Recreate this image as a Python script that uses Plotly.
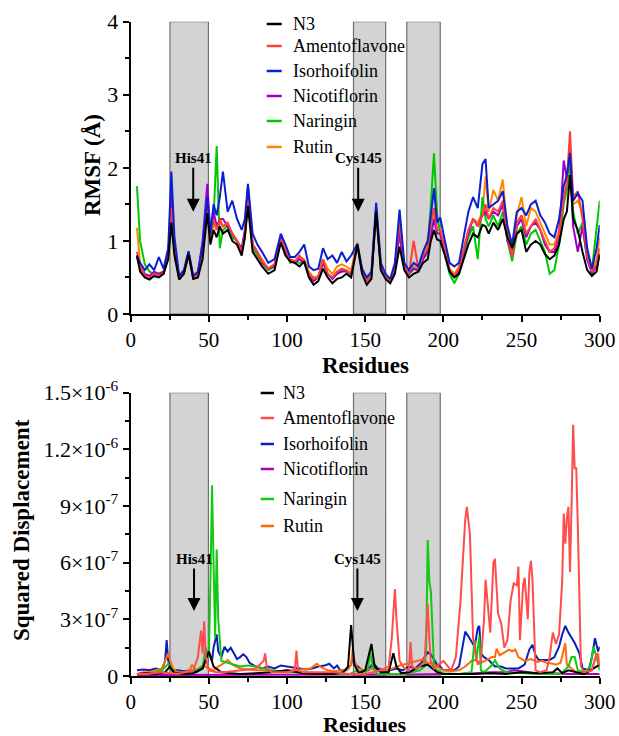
import plotly.graph_objects as go

# ---------------- Top panel: RMSF (Å) ----------------
residues_top = [4, 6, 9, 12, 15, 18, 21, 24, 26, 28,
                31, 34, 37, 40, 43, 46, 49, 51, 53, 55,
                57, 59, 62, 65, 68, 71, 73, 75, 78, 81,
                84, 88, 92, 96, 99, 102, 105, 108, 111, 114,
                117, 120, 123, 126, 129, 132, 135, 138, 141, 145,
                148, 151, 154, 157, 160, 163, 166, 169, 172, 175,
                178, 181, 184, 187, 190, 192, 194, 196, 198, 201,
                204, 207, 210, 213, 216, 219, 222, 225, 227, 229,
                232, 235, 238, 241, 244, 247, 250, 253, 256, 259,
                262, 265, 268, 271, 274, 277, 279, 281, 283, 286,
                289, 292, 295, 298, 300]

rmsf_n3 = [0.80, 0.58, 0.50, 0.47, 0.52, 0.50, 0.55, 0.75, 1.25, 0.80,
           0.47, 0.55, 0.82, 0.48, 0.50, 0.75, 1.38, 0.95, 1.15, 1.05,
           1.20, 1.10, 1.15, 1.00, 0.95, 0.80, 1.05, 1.48, 0.85, 0.75,
           0.65, 0.55, 0.60, 0.98, 0.80, 0.72, 0.70, 0.65, 0.72, 0.50,
           0.40, 0.45, 0.62, 0.50, 0.42, 0.48, 0.50, 0.55, 0.50, 0.95,
           0.55, 0.40, 0.48, 1.40, 0.60, 0.48, 0.42, 0.55, 0.92, 0.60,
           0.50, 0.55, 0.58, 0.70, 0.75, 1.00, 1.15, 1.02, 1.00, 0.80,
           0.58, 0.50, 0.55, 0.75, 0.95, 1.10, 1.05, 1.22, 1.20, 1.10,
           1.25, 1.15, 1.30, 1.05, 0.90, 1.10, 1.15, 0.85, 0.95, 1.00,
           0.95, 0.82, 0.75, 0.80, 0.95, 1.30, 1.40, 1.90, 1.30, 1.15,
           0.85, 0.60, 0.52, 0.58, 0.82]

rmsf_amentoflavone = [0.85, 0.65, 0.52, 0.48, 0.55, 0.52, 0.55, 0.80, 1.45, 0.90,
                      0.48, 0.55, 0.85, 0.50, 0.55, 0.85, 1.55, 1.05, 1.30, 1.15,
                      1.30, 1.20, 1.25, 1.10, 1.00, 0.85, 1.10, 1.55, 0.95, 0.85,
                      0.72, 0.62, 0.68, 1.02, 0.88, 0.75, 0.72, 0.80, 0.72, 0.55,
                      0.48, 0.50, 0.75, 0.55, 0.50, 0.58, 0.62, 0.60, 0.55, 0.95,
                      0.60, 0.45, 0.52, 1.45, 0.65, 0.50, 0.45, 0.65, 1.27, 0.65,
                      0.55, 1.00, 0.62, 0.80, 0.90, 1.25, 1.45, 1.15, 1.15, 0.90,
                      0.60, 0.52, 0.62, 0.90, 1.15, 1.30, 1.20, 1.35, 1.50, 1.30,
                      1.45, 1.40, 1.55, 1.05, 0.78, 1.25, 1.35, 1.10, 1.20, 1.30,
                      1.15, 1.00, 0.85, 0.90, 1.10, 1.55, 1.80, 2.50, 1.60, 1.68,
                      1.30, 0.80, 0.58, 0.68, 0.90]

rmsf_isorhoifolin = [0.80, 0.70, 0.60, 0.68, 0.60, 0.78, 0.62, 0.90, 1.95, 1.05,
                     0.52, 0.60, 0.86, 0.52, 0.58, 0.95, 1.60, 1.10, 1.50, 1.35,
                     1.60, 1.95, 1.40, 1.55, 1.30, 1.15, 1.30, 1.78, 1.10, 0.95,
                     0.85, 0.70, 0.75, 1.10, 0.95, 0.78, 0.78, 0.85, 0.95, 0.65,
                     0.60, 0.62, 0.90, 0.75, 0.80, 0.70, 0.85, 0.72, 0.80, 0.96,
                     0.62, 0.50, 0.58, 1.52, 0.70, 0.55, 0.48, 0.70, 1.43, 0.70,
                     0.60, 0.70, 0.65, 0.85, 1.00, 1.40, 1.72, 1.25, 1.32, 1.00,
                     0.70, 0.65, 0.70, 1.05, 1.40, 1.60, 1.45, 2.05, 2.12, 1.45,
                     1.50, 1.55, 1.68, 1.20, 0.95, 1.40, 1.45, 1.35, 1.50, 1.55,
                     1.35, 1.25, 1.10, 1.05, 1.30, 1.75, 1.90, 2.20, 1.55, 1.65,
                     1.55, 0.90, 0.62, 0.90, 1.22]

rmsf_nicotiflorin = [0.78, 0.62, 0.55, 0.52, 0.58, 0.55, 0.58, 0.80, 1.60, 0.90,
                     0.50, 0.55, 0.85, 0.50, 0.55, 1.00, 1.78, 1.10, 1.40, 1.20,
                     1.30, 1.30, 1.20, 1.10, 1.00, 0.90, 1.15, 1.75, 0.95, 0.85,
                     0.70, 0.62, 0.65, 1.05, 0.85, 0.72, 0.70, 0.75, 0.70, 0.52,
                     0.45, 0.50, 0.70, 0.55, 0.48, 0.55, 0.58, 0.58, 0.55, 0.95,
                     0.58, 0.45, 0.52, 1.45, 0.62, 0.50, 0.45, 0.60, 1.10, 0.62,
                     0.55, 0.62, 0.60, 0.75, 0.85, 1.10, 1.30, 1.10, 1.10, 0.85,
                     0.58, 0.52, 0.58, 0.85, 1.10, 1.30, 1.20, 1.35, 1.40, 1.30,
                     1.40, 1.35, 1.50, 1.00, 0.80, 1.20, 1.30, 1.05, 1.20, 1.25,
                     1.15, 0.95, 0.85, 0.85, 1.05, 2.10, 1.85, 2.30, 1.20, 0.85,
                     1.20, 0.75, 0.55, 0.65, 0.80]

rmsf_naringin = [1.75, 1.00, 0.68, 0.58, 0.55, 0.55, 0.58, 0.85, 1.40, 0.85,
                 0.48, 0.55, 0.80, 0.50, 0.55, 0.85, 1.50, 1.05, 1.30, 2.30,
                 0.90, 1.15, 1.20, 1.05, 1.00, 0.85, 1.05, 1.60, 0.90, 0.80,
                 0.70, 0.60, 0.65, 1.00, 0.85, 0.70, 0.72, 0.70, 0.72, 0.55,
                 0.48, 0.50, 0.70, 0.55, 0.50, 0.55, 0.60, 0.60, 0.52, 0.93,
                 0.60, 0.45, 0.55, 1.40, 0.65, 0.55, 0.45, 0.60, 1.15, 0.65,
                 0.55, 0.62, 0.60, 0.75, 0.90, 1.50, 2.20, 1.35, 1.10, 0.80,
                 0.55, 0.42, 0.55, 0.80, 1.05, 1.20, 0.75, 1.60, 1.30, 1.20,
                 1.35, 1.20, 1.40, 1.00, 0.72, 1.10, 1.20, 0.95, 1.10, 1.15,
                 1.00, 0.85, 0.55, 0.60, 0.95, 1.50, 1.70, 2.10, 1.40, 1.10,
                 1.25, 0.75, 0.60, 1.15, 1.55]

rmsf_rutin = [1.18, 0.70, 0.55, 0.52, 0.55, 0.52, 0.55, 0.80, 1.45, 0.88,
              0.48, 0.55, 0.82, 0.48, 0.55, 0.85, 1.50, 1.00, 1.25, 1.15,
              1.25, 1.20, 1.20, 1.10, 1.00, 0.85, 1.05, 1.55, 0.95, 0.85,
              0.75, 0.62, 0.68, 1.02, 0.85, 0.75, 0.72, 0.78, 0.75, 0.58,
              0.50, 0.52, 0.75, 0.62, 0.55, 0.65, 0.68, 0.65, 0.60, 0.98,
              0.62, 0.45, 0.52, 1.45, 0.65, 0.52, 0.45, 0.62, 1.20, 0.65,
              0.60, 0.65, 0.62, 0.85, 1.00, 1.20, 1.40, 1.15, 1.15, 0.88,
              0.62, 0.55, 0.65, 0.90, 1.15, 1.30, 1.25, 1.40, 1.88, 1.40,
              1.70, 1.55, 1.84, 1.15, 0.85, 1.35, 1.60, 1.20, 1.45, 1.40,
              1.25, 1.10, 0.95, 0.95, 1.15, 1.60, 1.75, 2.30, 1.50, 1.55,
              1.40, 0.85, 0.60, 0.75, 1.05]

# ---------------- Bottom panel: squared displacement (units of 1e-7) ----------------
SD_UNIT = 1e-7

sd_n3_res = [4, 10, 16, 22, 25, 28, 34, 40, 46, 50,
             53, 58, 64, 70, 80, 90, 100, 110, 120, 130,
             136, 139, 141, 143, 146, 150, 154, 156, 160, 165,
             168, 170, 173, 178, 185, 190, 193, 196, 200, 210,
             220, 230, 240, 250, 260, 270, 273, 276, 280, 290,
             296, 300]
sd_n3 = [0.1, 0.15, 0.1, 0.2, 0.5, 0.15, 0.1, 0.15, 0.4, 1.3,
         0.5, 0.2, 0.15, 0.1, 0.15, 0.2, 0.3, 0.15, 0.1, 0.1,
         0.2, 0.5, 2.7, 0.6, 0.15, 0.3, 1.7, 0.5, 0.2, 0.2,
         1.2, 0.5, 0.15, 0.2, 0.5, 0.6, 0.4, 0.2, 0.1, 0.1,
         0.1, 0.15, 0.1, 0.2, 0.15, 0.2, 0.4, 0.15, 0.3, 0.1,
         0.4, 0.6]

sd_amentoflavone_res = [4, 10, 20, 30, 40, 43, 45, 46, 47, 48,
                        50, 55, 60, 70, 80, 85, 86, 87, 90, 100,
                        105, 106, 107, 110, 120, 130, 140, 150, 160, 165,
                        167, 169, 170, 172, 175, 178, 179, 180, 182, 185,
                        188, 190, 191, 192, 194, 197, 200, 205, 208, 211,
                        213, 214, 215, 217, 219, 222, 224, 226, 227, 228,
                        230, 232, 233, 235, 237, 239, 241, 243, 245, 247,
                        248, 249, 251, 252, 254, 255, 256, 257, 259, 262,
                        266, 268, 270, 272, 274, 276, 277, 278, 279, 280,
                        281, 282, 283, 284, 285, 286, 287, 288, 290, 295,
                        298, 300]
sd_amentoflavone = [0.1, 0.1, 0.2, 0.1, 0.3, 1.0, 2.4, 1.2, 2.9, 1.0,
                    0.3, 0.2, 0.2, 0.3, 0.4, 0.8, 1.2, 0.5, 0.2, 0.2,
                    0.3, 1.35, 0.3, 0.2, 0.2, 0.2, 0.1, 0.1, 0.3, 0.5,
                    2.0, 4.6, 3.0, 0.8, 0.4, 0.3, 1.8, 0.5, 0.4, 0.5,
                    0.8, 3.8, 2.0, 0.7, 0.4, 0.6, 0.8, 0.3, 1.0, 4.0,
                    6.5, 8.3, 8.95, 7.5, 2.0, 0.6, 0.8, 3.0, 5.1, 4.0,
                    2.3, 6.0, 6.2, 3.3, 2.8, 1.5, 1.9, 4.0, 4.9, 4.8,
                    5.8, 1.9, 4.8, 5.2, 3.0, 5.5, 6.1, 5.1, 0.3, 0.2,
                    0.3, 1.0, 2.3, 1.7, 2.2, 5.0, 8.6, 7.0, 8.4, 8.96,
                    5.5, 9.0, 13.3, 11.0, 11.0, 8.0, 4.8, 0.5, 0.2, 0.3,
                    1.2, 0.5]

sd_isorhoifolin_res = [4, 8, 12, 16, 20, 22, 23, 24, 26, 30,
                       34, 38, 42, 46, 48, 50, 52, 53, 55, 56,
                       58, 60, 62, 64, 66, 68, 70, 72, 74, 76,
                       80, 84, 88, 92, 96, 100, 104, 108, 112, 116,
                       120, 124, 127, 130, 132, 134, 138, 141, 142, 144,
                       148, 152, 155, 158, 162, 166, 170, 174, 178, 182,
                       186, 188, 190, 192, 194, 196, 198, 200, 204, 207,
                       210, 212, 214, 216, 218, 220, 222, 223, 224, 226,
                       229, 233, 237, 240, 244, 248, 252, 255, 257, 259,
                       261, 264, 268, 271, 274, 276, 278, 280, 282, 284,
                       287, 289, 293, 295, 297, 299, 300]
sd_isorhoifolin = [0.3, 0.35, 0.3, 0.4, 0.3, 0.8, 1.9, 0.8, 0.3, 0.3,
                   0.25, 0.3, 0.2, 0.4, 1.0, 1.3, 0.8, 1.5, 2.2, 1.3,
                   1.0, 1.55, 1.3, 1.5, 1.2, 0.9, 1.0, 1.15, 1.0, 0.7,
                   0.5, 0.4, 0.5, 0.4, 0.55, 0.5, 0.45, 0.4, 0.35, 0.4,
                   0.5, 0.55, 0.65, 0.4, 0.55, 0.3, 0.3, 0.6, 1.0, 0.6,
                   0.3, 0.3, 0.7, 0.4, 0.3, 0.3, 0.4, 0.3, 0.5, 0.4,
                   0.7, 1.0, 1.25, 1.15, 0.9, 0.6, 0.5, 0.3, 0.3, 0.3,
                   0.5, 1.4, 2.35, 2.1, 1.8, 1.55, 2.55, 2.65, 1.2, 1.0,
                   0.85, 0.5, 0.5, 0.4, 0.4, 0.4, 0.6, 1.4, 1.65, 1.1,
                   0.85, 0.85, 0.85, 1.0, 1.55, 2.2, 2.65, 2.3, 2.0, 1.75,
                   1.2, 0.4, 0.3, 1.0, 2.0, 1.3, 1.55]

sd_nicotiflorin_res = [4, 20, 40, 60, 80, 100, 120, 140, 160, 180,
                       200, 210, 220, 230, 240, 245, 250, 255, 260, 270,
                       280, 290, 300]
sd_nicotiflorin = [0.05, 0.05, 0.05, 0.08, 0.05, 0.05, 0.05, 0.05, 0.05, 0.08,
                   0.1, 0.1, 0.15, 0.2, 0.2, 0.3, 0.25, 0.2, 0.15, 0.15,
                   0.1, 0.1, 0.1]

sd_naringin_res = [4, 10, 16, 20, 24, 26, 30, 36, 42, 46,
                   48, 50, 51, 52, 53, 54, 55, 56, 58, 62,
                   66, 70, 75, 80, 90, 100, 110, 120, 130, 140,
                   145, 150, 152, 153, 155, 158, 165, 170, 175, 180,
                   185, 188, 189, 190, 191, 192, 193, 194, 196, 200,
                   210, 218, 220, 221, 223, 224, 226, 231, 233, 236,
                   240, 250, 260, 270, 275, 280, 282, 284, 286, 290,
                   294, 296, 298, 300]
sd_naringin = [0.1, 0.1, 0.2, 0.3, 0.65, 0.3, 0.15, 0.2, 0.3, 0.5,
               1.5, 1.0, 5.0, 10.1, 6.0, 2.0, 6.7, 3.0, 0.8, 0.7,
               0.6, 0.5, 0.55, 0.5, 0.3, 0.2, 0.2, 0.15, 0.1, 0.1,
               0.3, 0.1, 0.5, 1.3, 0.4, 0.1, 0.1, 0.1, 0.1, 0.2,
               0.3, 0.5, 1.5, 7.2, 5.0, 4.5, 2.0, 0.5, 0.3, 0.15,
               0.1, 0.2, 1.9, 0.8, 2.1, 0.3, 0.2, 0.57, 0.84, 0.4,
               0.2, 0.15, 0.1, 0.1, 0.1, 0.5, 1.0, 1.0, 0.3, 0.2,
               0.5, 1.55, 1.0, 0.3]

sd_rutin_res = [4, 8, 12, 16, 20, 22, 24, 25, 27, 30,
                34, 38, 39, 42, 45, 48, 50, 53, 56, 60,
                62, 65, 70, 75, 80, 85, 90, 95, 100, 105,
                110, 115, 119, 122, 126, 130, 135, 139, 141, 142,
                143, 145, 150, 155, 160, 165, 170, 175, 180, 185,
                188, 190, 193, 196, 200, 205, 210, 214, 218, 220,
                224, 229, 231, 233, 234, 236, 238, 242, 244, 246,
                248, 252, 256, 260, 263, 266, 270, 272, 275, 278,
                279, 282, 285, 289, 292, 295, 297, 299, 300]
sd_rutin = [0.1, 0.2, 0.2, 0.3, 0.4, 0.8, 1.2, 0.9, 0.4, 0.2,
            0.2, 0.3, 0.6, 0.3, 0.5, 0.5, 0.4, 0.3, 0.5, 0.7,
            0.85, 0.6, 0.4, 0.35, 0.3, 0.3, 0.3, 0.25, 0.3, 0.3,
            0.35, 0.4, 0.65, 0.45, 0.3, 0.25, 0.3, 0.35, 0.6, 1.45,
            0.8, 0.4, 0.3, 0.4, 0.3, 0.3, 0.5, 0.6, 0.7, 0.8,
            0.9, 0.65, 0.7, 0.5, 0.3, 0.25, 0.3, 0.5, 0.8, 0.85,
            0.7, 0.9, 1.0, 1.0, 1.45, 1.1, 1.2, 1.4, 1.3, 1.4,
            1.0, 0.8, 0.9, 0.75, 0.8, 0.7, 0.65, 0.6, 0.7, 1.73,
            0.6, 0.4, 0.2, 0.2, 0.2, 0.3, 0.9, 1.2, 0.6]

# labels / categories
series_names = ["N3", "Amentoflavone", "Isorhoifolin", "Nicotiflorin", "Naringin", "Rutin"]
top_colors = ["#000000", "#ff3d3d", "#0a1ed2", "#9b00c8", "#00c800", "#ff8a00"]
bot_colors = ["#000000", "#ff4d4d", "#0a1eb8", "#b400b4", "#14c814", "#ff6a0a"]
region_bounds = [(25.1, 49.7), (142.5, 163.1), (176.6, 198.0)]
sd_tickvals = [0, 3e-7, 6e-7, 9e-7, 1.2e-6, 1.5e-6]
sd_ticktext = ["0", "3×10<sup>-7</sup>", "6×10<sup>-7</sup>", "9×10<sup>-7</sup>",
               "1.2×10<sup>-6</sup>", "1.5×10<sup>-6</sup>"]

top_series = [rmsf_n3, rmsf_amentoflavone, rmsf_isorhoifolin,
              rmsf_nicotiflorin, rmsf_naringin, rmsf_rutin]
bot_series = [(sd_n3_res, sd_n3), (sd_amentoflavone_res, sd_amentoflavone),
              (sd_isorhoifolin_res, sd_isorhoifolin), (sd_nicotiflorin_res, sd_nicotiflorin),
              (sd_naringin_res, sd_naringin), (sd_rutin_res, sd_rutin)]
for s in top_series:
    assert len(s) == len(residues_top), len(s)
for r, v in bot_series:
    assert len(r) == len(v), (len(r), len(v))

W, H = 619, 736
FONT = "Liberation Serif"


def px(x):
    return x / W


def py(y):
    return 1 - y / H


fig = go.Figure()

top_order = [5, 4, 3, 1, 2, 0]
for i in top_order:
    fig.add_trace(go.Scatter(x=residues_top, y=top_series[i], mode="lines",
                             line=dict(color=top_colors[i], width=2),
                             name=series_names[i], showlegend=False,
                             xaxis="x", yaxis="y"))

bot_order = [3, 2, 5, 4, 0, 1]
for i in bot_order:
    r, v = bot_series[i]
    fig.add_trace(go.Scatter(x=r, y=[val * SD_UNIT for val in v], mode="lines",
                             line=dict(color=bot_colors[i], width=2),
                             name=series_names[i], showlegend=False,
                             xaxis="x2", yaxis="y2"))

x_dom = [px(130.7), px(599.7)]
top_dom = [py(314.0), py(21.7)]
bot_dom = [py(676.0), py(392.7)]

axis_common = dict(showline=True, linecolor="black", linewidth=2, ticks="outside",
                   ticklen=6, tickwidth=2, tickcolor="black", showgrid=False,
                   zeroline=False, automargin=False)
xcommon = dict(axis_common, range=[0, 300], tick0=0, dtick=50,
               tickfont=dict(family=FONT, size=21, color="black"),
               minor=dict(dtick=25, tick0=0, ticks="outside", ticklen=4, tickwidth=2,
                          tickcolor="black"))

fig.update_layout(
    width=W, height=H,
    margin=dict(l=0, r=0, t=0, b=0),
    paper_bgcolor="white", plot_bgcolor="white",
    font=dict(family=FONT, color="black"),
    xaxis=dict(xcommon, domain=x_dom, anchor="y"),
    xaxis2=dict(xcommon, domain=x_dom, anchor="y2"),
    yaxis=dict(axis_common, domain=top_dom, anchor="x", range=[0, 4], tick0=0, dtick=1,
               tickfont=dict(family=FONT, size=22, color="black"),
               minor=dict(dtick=0.5, tick0=0, ticks="outside", ticklen=4, tickwidth=2,
                          tickcolor="black")),
    yaxis2=dict(axis_common, domain=bot_dom, anchor="x2", range=[0, 1.5e-6],
                tickvals=sd_tickvals, ticktext=sd_ticktext,
                tickfont=dict(family=FONT, size=22, color="black"),
                minor=dict(dtick=1.5e-7, tick0=0, ticks="outside", ticklen=4, tickwidth=2,
                           tickcolor="black")),
)

shapes = []
for (x0, x1) in region_bounds:
    shapes.append(dict(type="rect", xref="x", yref="y", x0=x0, x1=x1, y0=0, y1=4,
                       fillcolor="#d3d3d3", line=dict(color="#6e6e6e", width=1.2),
                       layer="below"))
    shapes.append(dict(type="rect", xref="x2", yref="y2", x0=x0, x1=x1, y0=0, y1=1.5e-6,
                       fillcolor="#d3d3d3", line=dict(color="#6e6e6e", width=1.2),
                       layer="below"))

annotations = []

# manual legends (short line + label)
top_rows = [24, 46, 71, 96, 121, 147]
bot_rows = [393, 418, 444, 469, 499, 526]
for i, name in enumerate(series_names):
    shapes.append(dict(type="line", xref="paper", yref="paper",
                       x0=px(266.7), x1=px(281.7), y0=py(top_rows[i]), y1=py(top_rows[i]),
                       line=dict(color=top_colors[i], width=2.5)))
    annotations.append(dict(xref="paper", yref="paper", x=px(290.5), y=py(top_rows[i]),
                            text=name, showarrow=False, xanchor="left", yanchor="middle",
                            font=dict(family=FONT, size=18, color="black")))
    shapes.append(dict(type="line", xref="paper", yref="paper",
                       x0=px(260.7), x1=px(274.0), y0=py(bot_rows[i]), y1=py(bot_rows[i]),
                       line=dict(color=bot_colors[i], width=2.5)))
    annotations.append(dict(xref="paper", yref="paper", x=px(281.0), y=py(bot_rows[i]),
                            text=name, showarrow=False, xanchor="left", yanchor="middle",
                            font=dict(family=FONT, size=18, color="black")))

# axis titles
title_font = dict(family=FONT, size=23, color="black")
annotations += [
    dict(xref="paper", yref="paper", x=px(365.2), y=py(365), text="<b>Residues</b>",
         showarrow=False, xanchor="center", yanchor="middle", font=title_font),
    dict(xref="paper", yref="paper", x=px(365.2), y=py(724.5), text="<b>Residues</b>",
         showarrow=False, xanchor="center", yanchor="middle",
         font=dict(family=FONT, size=22, color="black")),
    dict(xref="paper", yref="paper", x=px(92), y=py(165), text="<b>RMSF (Å)</b>",
         showarrow=False, xanchor="center", yanchor="middle", textangle=-90, font=title_font),
    dict(xref="paper", yref="paper", x=px(21), y=py(530), text="<b>Squared Displacement</b>",
         showarrow=False, xanchor="center", yanchor="middle", textangle=-90, font=title_font),
]

# residue markers: label text at the arrow tail, arrow pointing down to the residue
mark_font = dict(family=FONT, size=15, color="black")
markers_top = [("His41", 40.0), ("Cys145", 145.5)]
for label, xa in markers_top:
    annotations.append(dict(xref="x", yref="y", x=xa, y=1.40, ax=xa, ay=2.13,
                            axref="x", ayref="y", text="<b>%s</b>" % label,
                            showarrow=True, arrowhead=2, arrowsize=1.3, arrowwidth=2,
                            arrowcolor="black", font=mark_font))
markers_bot = [("His41", 40.5), ("Cys145", 145.0)]
for label, xa in markers_bot:
    annotations.append(dict(xref="x2", yref="y2", x=xa, y=3.44e-7, ax=xa, ay=6.2e-7,
                            axref="x2", ayref="y2", text="<b>%s</b>" % label,
                            showarrow=True, arrowhead=2, arrowsize=1.3, arrowwidth=2,
                            arrowcolor="black", font=mark_font))

fig.update_layout(shapes=shapes, annotations=annotations)
fig.write_html("out.html", config={"displayModeBar": False},
               post_script="document.body.style.margin='0';document.body.style.overflow='hidden';")
